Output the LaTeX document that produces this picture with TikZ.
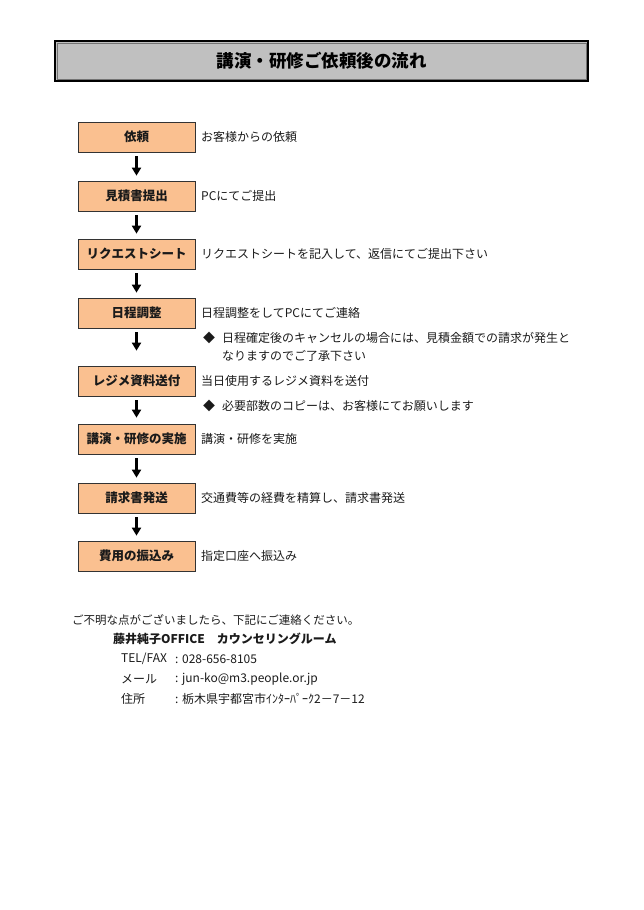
\documentclass[tikz,border=0pt]{standalone}
\usepackage{fontspec}
\setmainfont{Noto Sans CJK JP}
\usetikzlibrary{arrows.meta,shadows}
\definecolor{stepfill}{HTML}{FAC090}
\definecolor{titlefill}{HTML}{C0C0C0}
\definecolor{txt}{HTML}{1A1A1A}

\begin{document}
\begin{tikzpicture}[
  x=1pt, y=-1pt,
  >=Triangle,
  stepbox/.style={draw=black!80, line width=0.7pt, fill=stepfill,
    minimum width=117pt, minimum height=30pt, inner sep=0pt,
    font=\fontsize{12.5}{14}\selectfont\bfseries, text=txt,
    drop shadow={shadow xshift=1pt, shadow yshift=-1pt, fill=black!70, opacity=1}},
  note/.style={anchor=west, inner sep=0pt, font=\fontsize{12}{14}\selectfont, text=txt},
  flow/.style={line width=2.5pt, shorten <=4pt,
    arrows={-Triangle[length=8pt, width=9pt]}},
  info/.style={anchor=west, inner sep=0pt, font=\fontsize{12}{14}\selectfont, text=txt},
]
\useasboundingbox (0,0) rectangle (644,910);

% title
\node[draw=black, line width=2.6pt, fill=titlefill, minimum width=533pt, minimum height=40pt,
  inner sep=0pt, font=\fontsize{17.5}{19}\selectfont\bfseries] (title) at (321.5,61) {講演・研修ご依頼後の流れ};
\draw[black!55, line width=0.6pt] ([shift={(3.5pt,-3.5pt)}]title.north west) rectangle ([shift={(-3.5pt,3.5pt)}]title.south east);

% steps
\node[stepbox] (s1) at (136.5,137) {依頼};
\node[stepbox] (s2) at (136.5,196) {見積書提出};
\node[stepbox] (s3) at (136.5,254) {リクエストシート};
\node[stepbox] (s4) at (136.5,313) {日程調整};
\node[stepbox] (s5) at (136.5,381) {レジメ資料送付};
\node[stepbox] (s6) at (136.5,439) {講演・研修の実施};
\node[stepbox] (s7) at (136.5,498) {請求書発送};
\node[stepbox] (s8) at (136.5,556) {費用の振込み};

\draw[flow, shorten >=5pt] (s1) -- (s2);
\draw[flow, shorten >=5pt] (s2) -- (s3);
\draw[flow, shorten >=5pt] (s3) -- (s4);
\draw[flow, shorten >=15pt] (s4) -- (s5);
\draw[flow, shorten >=6pt] (s5) -- (s6);
\draw[flow, shorten >=5pt] (s6) -- (s7);
\draw[flow, shorten >=5pt] (s7) -- (s8);

% descriptions
\node[note] (d1) at (201,137) {お客様からの依頼};
\node[note] (d2) at (201,196) {PCにてご提出};
\node[note] (d3) at (201,254) {リクエストシートを記入して、返信にてご提出下さい};
\node[note] (d4) at (201,313) {日程調整をしてPCにてご連絡};
\node[note] (b4a) at (203,338) {◆\hspace{7pt}日程確定後のキャンセルの場合には、見積金額での請求が発生と};
\node[note] (b4b) at (222,356) {なりますのでご了承下さい};
\node[note] (d5) at (201,381) {当日使用するレジメ資料を送付};
\node[note] (b5) at (203,406) {◆\hspace{7pt}必要部数のコピーは、お客様にてお願いします};
\node[note] (d6) at (201,439) {講演・研修を実施};
\node[note] (d7) at (201,498) {交通費等の経費を精算し、請求書発送};
\node[note] (d8) at (201,556) {指定口座へ振込み};

% contact
\node[note, font=\fontsize{11.5}{13}\selectfont] (ask) at (72,620) {ご不明な点がございましたら、下記にご連絡ください。};
\node[info, font=\fontsize{12}{14}\selectfont\bfseries] (office) at (113,639) {藤井純子OFFICE\hspace{12pt}カウンセリングルーム};
\node[info] (tel) at (121,659) {TEL/FAX};
\node[info] (mail) at (121,679) {メール};
\node[info] (addr) at (121,699) {住所};
\node[info] (telv) at (175,659) {: 028-656-8105};
\node[info] (mailv) at (175,679) {: jun-ko@m3.people.or.jp};
\node[info] (addrv) at (175,699) {: 栃木県宇都宮市ｲﾝﾀｰﾊﾟｰｸ2－7－12};

\end{tikzpicture}
\end{document}
